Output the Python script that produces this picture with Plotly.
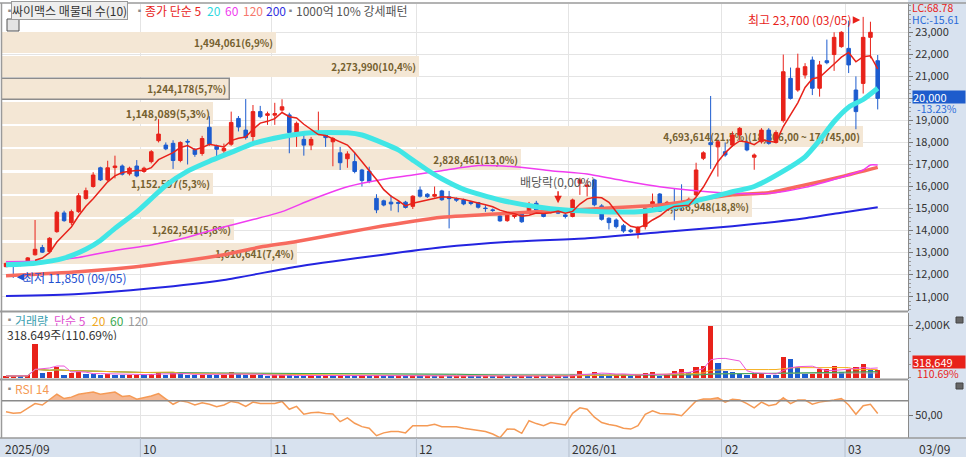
import pandas as pd
import plotly.graph_objects as go

# =============================================================================
# 데이터 (싸이맥스 일봉, 2025/09/04 ~ 2026/03/09, 121 거래일)
# =============================================================================
opens = [12360, 12480, 12440, 12550, 12900, 13230, 13050, 13950, 14800, 14360,
         14860, 15460, 16000, 16850, 16300, 16860, 16930, 16580, 16930, 16680,
         17130, 18080, 17880, 17960, 17180, 18050, 17680, 17500, 18690, 17830,
         17620, 17920, 19090, 18560, 18270, 19400, 19230, 19240, 19470, 19250,
         18440, 18140, 17880, 18400, 18450, 18030, 17530, 17260, 17130, 16750,
         16700, 15460, 15350, 15290, 15270, 15290, 15100, 15840, 15650, 15560,
         15800, 15530, 15450, 15390, 15300, 15270, 15020, 14940, 14660, 14450,
         14640, 14770, 14790, 15240, 14940, 14830, 14900, 14710, 14640, 16150,
         16000, 16300, 15120, 14560, 14480, 14220, 14020, 13900, 14180, 15080,
         15660, 15200, 15260, 15220, 15160, 15620, 17280, 17990, 17800, 17580,
         17880, 18340, 17990, 17330, 18030, 18560, 18000, 18990, 20910, 20380,
         21060, 21740, 20460, 21710, 21990, 22350, 22270, 20380, 20680, 22770, 21710]
highs = [12540, 12520, 12470, 12800, 14480, 13350, 13700, 14900, 14900, 14950,
         15700, 15950, 16650, 16900, 17170, 17400, 17000, 16900, 17200, 16900,
         17650, 19060, 18000, 18100, 18050, 18150, 17750, 18300, 19190, 17900,
         17950, 19400, 19200, 19970, 19700, 19660, 19400, 19800, 19960, 19350,
         18950, 18450, 18250, 19400, 18500, 18250, 17800, 17600, 17550, 16800,
         16900, 15650, 15400, 15600, 15350, 15350, 15600, 16000, 15700, 16000,
         15850, 15800, 15500, 15450, 15350, 15300, 15150, 15000, 14700, 14800,
         14800, 14850, 15300, 15350, 15000, 14950, 14950, 14800, 15450, 16400,
         16300, 16350, 15200, 14600, 14550, 14300, 14080, 14200, 15050, 15680,
         15700, 15350, 15920, 16100, 15500, 17080, 17600, 20110, 18100, 18000,
         18500, 18700, 18100, 17500, 18650, 18650, 18550, 21990, 21400, 22030,
         21600, 21900, 21700, 22670, 23000, 23050, 23530, 21000, 23700, 23480, 21970]
lows = [12340, 11850, 12380, 12480, 12870, 12980, 13000, 13900, 14400, 14250,
        14800, 15400, 15950, 16250, 16250, 16370, 16500, 16500, 16420, 16620,
        17050, 18000, 17650, 16800, 17100, 17000, 17350, 17400, 17850, 17200,
        17450, 17850, 18500, 18130, 17900, 19100, 18800, 18800, 19400, 17510,
        17800, 17400, 17650, 18350, 17800, 16920, 16750, 16850, 16600, 16000,
        16150, 14790, 15100, 14900, 14830, 15000, 14980, 15500, 15480, 15500,
        15350, 14100, 15300, 15150, 15150, 15000, 14850, 14850, 14400, 14400,
        14550, 14350, 14750, 14900, 14600, 14780, 14750, 14550, 14600, 15620,
        15550, 15100, 14450, 14050, 14100, 13900, 13900, 13640, 14050, 15000,
        14850, 15100, 14470, 14900, 15100, 15550, 17200, 16800, 16450, 17350,
        17800, 18100, 17600, 16760, 17950, 17900, 17950, 18900, 19950, 20300,
        20900, 20150, 20080, 21550, 21250, 22300, 21150, 18600, 20220, 21820, 19500]
closes = [12510, 12430, 12420, 12760, 13150, 13020, 13650, 14830, 14450, 14860,
          15580, 15810, 16520, 16300, 16850, 16930, 16560, 16830, 16480, 16830,
          17580, 18380, 17710, 17180, 18000, 18020, 17460, 18180, 17920, 17690,
          17730, 18910, 18700, 18220, 19400, 19170, 19300, 19310, 19620, 18450,
          18870, 17880, 18140, 18450, 18220, 18180, 17080, 17480, 16680, 16270,
          16230, 14940, 15160, 15210, 15240, 15050, 15560, 15560, 15540, 15640,
          15400, 15450, 15380, 15210, 15230, 15060, 15000, 14910, 14440, 14740,
          14760, 14400, 15160, 14940, 14640, 14900, 14790, 14640, 15390, 16300,
          16070, 15170, 14510, 14360, 14180, 13980, 13950, 14150, 15010, 15310,
          14880, 15280, 15010, 15180, 15420, 16750, 17530, 17900, 18030, 17430,
          18340, 18640, 17660, 17430, 18560, 17960, 18450, 21210, 20000, 21370,
          21440, 20460, 21520, 21620, 22770, 23000, 21520, 19400, 22770, 23000, 20000]
volumes = [75000, 80000, 60000, 110000, 1300000, 175000, 240000, 430000, 110000, 175000,
           240000, 150000, 140000, 120000, 150000, 130000, 110000, 120000, 130000, 110000,
           150000, 240000, 130000, 170000, 160000, 120000, 110000, 130000, 120000, 110000,
           120000, 240000, 150000, 110000, 120000, 100000, 90000, 100000, 110000, 100000,
           90000, 80000, 95000, 85000, 90000, 80000, 100000, 85000, 80000, 95000,
           90000, 110000, 85000, 70000, 80000, 75000, 90000, 70000, 75000, 65000,
           80000, 70000, 75000, 85000, 70000, 65000, 70000, 60000, 80000, 70000,
           65000, 75000, 70000, 80000, 65000, 70000, 75000, 65000, 150000, 275000,
           110000, 240000, 150000, 90000, 140000, 145000, 90000, 95000, 200000, 210000,
           90000, 110000, 265000, 340000, 240000, 430000, 450000, 1975000, 580000, 265000,
           240000, 150000, 130000, 200000, 205000, 110000, 105000, 780000, 715000, 430000,
           140000, 160000, 330000, 340000, 450000, 240000, 330000, 430000, 530000, 288000, 318649]
rsi14 = [54.6, 52.3, 53, 60, 66, 64, 71, 79, 73, 75,
         79, 80, 82, 79, 80, 82, 76, 77, 72, 74,
         76.5, 80, 72, 65, 70, 68, 64, 67, 65, 61.6,
         64, 69, 67, 62, 68, 66, 66, 66, 69, 58,
         62, 51, 53, 54, 52, 51.5, 40.7, 46, 38.4, 33.7,
         31.4, 21, 25, 27, 27, 25, 35, 35, 35, 37,
         33.7, 33.7, 33.7, 31.4, 30, 28.7, 27, 23.4, 18.3, 30.3,
         30, 24.4, 42, 38, 35, 39.4, 38, 36, 52.3, 60,
         58, 47, 39.4, 36.6, 35, 31.4, 30.3, 35, 51, 56,
         52, 52, 51, 49, 59, 69.6, 72.4, 72.4, 74, 68,
         72, 71, 66, 60, 68, 63, 65, 74, 66, 71,
         71, 65, 68, 69, 71, 73, 64, 51, 63, 65, 52]

# 이동평균선 (차트에서 읽은 값, 캔들 번호 기준)
ma20_idx = [0, 4, 8, 11, 13, 15, 18, 20, 22, 25, 28, 31, 34, 38, 42, 47, 49, 52, 54, 56,
            58, 60, 63, 68, 73, 77, 82, 87, 90, 93, 95, 100, 103, 107, 110, 112, 114, 116, 118, 120]
ma20_val = [12450, 12520, 12750, 13150, 13550, 14100, 14850, 15450, 16050, 16700, 17150, 17550,
            17950, 18260, 18440, 18440, 18340, 17960, 17660, 17200, 16750, 16350, 15870, 15390,
            15080, 14930, 14860, 14850, 14980, 15150, 15350, 15760, 16000, 16700, 17350, 18100,
            18950, 19600, 19950, 20460]
ma60_idx = [0, 5, 10, 15, 20, 25, 29, 34, 38, 42, 47, 52, 56, 60, 65, 70, 75, 80, 85, 90,
            95, 100, 105, 110, 115, 118, 119, 120]
ma60_val = [12590, 12620, 12780, 13100, 13350, 13700, 14080, 14500, 14860, 15400, 15990, 16330,
            16520, 16720, 16950, 16900, 16720, 16570, 16260, 15990, 15810, 15690, 15690, 15960,
            16420, 16750, 16980, 16980]
ma120_idx = [0, 10, 20, 30, 35, 40, 50, 60, 70, 80, 90, 95, 100, 105, 110, 115, 120]
ma120_val = [11950, 12130, 12440, 12900, 13250, 13500, 14100, 14600, 14800, 14970, 15160, 15390,
             15620, 15720, 16070, 16450, 16870]
ma200_idx = [0, 10, 20, 30, 40, 50, 60, 70, 80, 90, 100, 110, 115, 120]
ma200_val = [11030, 11120, 11380, 11760, 12360, 12820, 13240, 13500, 13650, 13920, 14200, 14560,
             14810, 15060]

# 매물대 (10개 구간)
band_low = [21989, 20928, 19867, 18806, 17745, 16684, 15623, 14562, 13501, 12440]
band_high = [23050, 21989, 20928, 19867, 18806, 17745, 16684, 15623, 14562, 13501]
band_volume = [1494061, 2273990, 1244178, 1148089, 4693614, 2828461, 1152597, 4086948, 1262541, 1610641]
band_labels = ["1,494,061(6,9%)", "2,273,990(10,4%)", "1,244,178(5,7%)", "1,148,089(5,3%)",
               "4,693,614(21,5%)(18,806,00 ~ 17,745,00)", "2,828,461(13,0%)", "1,152,597(5,3%)",
               "4,086,948(18,8%)", "1,262,541(5,8%)", "1,610,641(7,4%)"]
current_band = 2

month_start = [0, 19, 37, 57, 78, 99, 116]
month_labels = ["2025/09", "10", "11", "12", "2026/01", "02", "03"]
price_ticks = list(range(11000, 24000, 1000))
last_price = 20000

# =============================================================================
# 스타일
# =============================================================================
FONT = "Noto Sans CJK KR"
RED = "#e8221a"
BLUE = "#1c5ccf"
GRID = "#e4e4e4"
PANEL = "#d8e2ef"
W, H = 966, 457
ML, MR, MT, MB = 2, 58, 4, 19
PW, PH = W - ML - MR, H - MT - MB


def px(x):
    return (x - ML) / PW


def py(y):
    return (H - MB - y) / PH


idx = list(range(len(closes)))
xr = [-0.55, 124.17]
grid_pos = [m - 0.5 for m in month_start[1:]]

close_s = pd.Series(closes)
ma5 = close_s.rolling(5).mean()
vol_s = pd.Series(volumes)
vol_colors = [RED if i == 0 or volumes[i] >= volumes[i - 1] else BLUE for i in idx]

fig = go.Figure()

# 매물대 막대
fig.add_trace(go.Bar(
    x=band_volume, y=[(a + b) / 2 for a, b in zip(band_low, band_high)],
    width=[(b - a) * 0.9 for a, b in zip(band_low, band_high)],
    base=0, orientation="h", xaxis="x", yaxis="y",
    marker=dict(color="#f4e7d5",
                line=dict(color="#8c8c8c",
                          width=[1.5 if i == current_band else 0 for i in range(len(band_low))])),
    text=band_labels, textposition="inside", insidetextanchor="end",
    textfont=dict(family=FONT, size=12.5, color="#75602f", weight="bold"),
    hoverinfo="skip", showlegend=False,
))

# 이동평균선
for xs, ys, col, wd in [(ma200_idx, ma200_val, "#2424e0", 2),
                        (ma120_idx, ma120_val, "#f76a5e", 3.5),
                        (ma60_idx, ma60_val, "#f03cf0", 1.5),
                        (ma20_idx, ma20_val, "#40e6e6", 5)]:
    fig.add_trace(go.Scatter(x=xs, y=ys, mode="lines", xaxis="x2", yaxis="y",
                             line=dict(color=col, width=wd, shape="spline", smoothing=0.6),
                             hoverinfo="skip", showlegend=False))

fig.add_trace(go.Candlestick(
    x=idx, open=opens, high=highs, low=lows, close=closes, xaxis="x2", yaxis="y",
    increasing=dict(line=dict(color=RED, width=1), fillcolor=RED),
    decreasing=dict(line=dict(color=BLUE, width=1), fillcolor=BLUE),
    whiskerwidth=0, showlegend=False, hoverinfo="skip",
))

fig.add_trace(go.Scatter(x=idx, y=ma5, mode="lines", xaxis="x2", yaxis="y",
                         line=dict(color=RED, width=1.5), hoverinfo="skip", showlegend=False))

# 거래량
fig.add_trace(go.Bar(x=idx, y=volumes, xaxis="x3", yaxis="y2", width=0.72,
                     marker=dict(color=vol_colors, line=dict(width=0)),
                     hoverinfo="skip", showlegend=False))
for n, col in [(120, "#aaaaaa"), (60, "#3aaa50"), (20, "#f5b020"), (5, "#ee55d8")]:
    fig.add_trace(go.Scatter(x=idx, y=vol_s.rolling(n, min_periods=1).mean(), mode="lines",
                             xaxis="x3", yaxis="y2", line=dict(color=col, width=1),
                             hoverinfo="skip", showlegend=False))

# RSI
fig.add_trace(go.Scatter(x=idx, y=[70] * len(idx), mode="lines", xaxis="x3", yaxis="y3",
                         line=dict(width=0), hoverinfo="skip", showlegend=False))
fig.add_trace(go.Scatter(x=idx, y=[max(v, 70) for v in rsi14], mode="lines", xaxis="x3", yaxis="y3",
                         fill="tonexty", fillcolor="rgba(242,160,112,0.75)", line=dict(width=0),
                         hoverinfo="skip", showlegend=False))
fig.add_trace(go.Scatter(x=idx, y=rsi14, mode="lines", xaxis="x3", yaxis="y3",
                         line=dict(color="#f59a55", width=1.5), hoverinfo="skip", showlegend=False))

axis_font = dict(family=FONT, size=11, color="#333")
yax_common = dict(side="right", showline=True, linecolor="#8a8a8a", linewidth=1,
                  gridcolor=GRID, zeroline=False, ticks="outside", ticklen=4,
                  tickcolor="#777", tickfont=axis_font, fixedrange=True)

fig.update_layout(
    width=W, height=H,
    margin=dict(l=ML, r=MR, t=MT, b=MB),
    paper_bgcolor="white", plot_bgcolor="white",
    hovermode=False, showlegend=False, bargap=0,
    xaxis=dict(domain=[0, 1], anchor="y", range=[0, 4693614 * PW / 861], visible=False,
               rangeslider=dict(visible=False), fixedrange=True),
    xaxis2=dict(overlaying="x", anchor="y", range=xr, tickvals=grid_pos, showticklabels=False,
                showgrid=True, gridcolor=GRID, zeroline=False, ticks="",
                rangeslider=dict(visible=False), fixedrange=True),
    xaxis3=dict(domain=[0, 1], anchor="y3", range=xr, tickvals=grid_pos, showticklabels=False,
                showgrid=True, gridcolor=GRID, zeroline=False, ticks="", fixedrange=True),
    yaxis=dict(domain=[(H - MB - 311) / PH, 1], anchor="x", range=[10349, 24285],
               tickvals=price_ticks,
               ticktext=["" if v == last_price else f"{v:,}" for v in price_ticks],
               minor=dict(ticks="outside", ticklen=2, dtick=200, tickcolor="#999", showgrid=False),
               **yax_common),
    yaxis2=dict(domain=[(H - MB - 379) / PH, (H - MB - 313) / PH], anchor="x3",
                range=[-38000, 2453000], tickvals=[2000000], ticktext=["2,000K"],
                minor=dict(ticks="outside", ticklen=2, dtick=500000, tickcolor="#999", showgrid=False),
                **yax_common),
    yaxis3=dict(domain=[0, (H - MB - 380) / PH], anchor="x3", range=[17.83, 98.95],
                tickvals=[50], ticktext=["50,00"], **yax_common),
)

shapes = [
    # 오른쪽 축 패널 / 아래 날짜 띠
    dict(type="rect", xref="paper", yref="paper", x0=1, x1=px(W), y0=py(H), y1=py(0),
         fillcolor=PANEL, line=dict(width=0), layer="below"),
    dict(type="rect", xref="paper", yref="paper", x0=px(0), x1=px(W), y0=py(H), y1=py(438),
         fillcolor=PANEL, line=dict(width=0), layer="below"),
    # 패널 구분선
    dict(type="line", xref="paper", yref="paper", x0=px(0), x1=1, y0=py(311.5), y1=py(311.5),
         line=dict(color="#9a9a9a", width=2)),
    dict(type="line", xref="paper", yref="paper", x0=px(0), x1=1, y0=py(379.5), y1=py(379.5),
         line=dict(color="#9a9a9a", width=2)),
    dict(type="line", xref="paper", yref="paper", x0=px(0), x1=px(W), y0=py(438), y1=py(438),
         line=dict(color="#9a9a9a", width=1.5)),
    dict(type="line", xref="paper", yref="paper", x0=px(0), x1=px(W), y0=py(3), y1=py(3),
         line=dict(color="#9a9a9a", width=1.5)),
    dict(type="line", xref="paper", yref="paper", x0=px(1.5), x1=px(1.5), y0=py(438), y1=py(3),
         line=dict(color="#9a9a9a", width=1.5)),
    # RSI 70 기준선
    dict(type="line", xref="paper", yref="y3", x0=0, x1=1, y0=70, y1=70,
         line=dict(color="#8a8a8a", width=1.5)),
    # 표 아이콘
    dict(type="rect", xref="paper", yref="paper", x0=px(7), x1=px(19), y0=py(31), y1=py(19),
         fillcolor="#e4e4e4", line=dict(color="#555", width=1)),
    # 오른쪽 작은 아이콘
    dict(type="rect", xref="paper", yref="paper", x0=px(956), x1=px(963), y0=py(323), y1=py(317),
         fillcolor="#666", line=dict(color="#444", width=1)),
    dict(type="rect", xref="paper", yref="paper", x0=px(956), x1=px(963), y0=py(389), y1=py(383),
         fillcolor="#666", line=dict(color="#444", width=1)),
]
for g in grid_pos:
    shapes.append(dict(type="line", xref="x3", yref="paper", x0=g, x1=g, y0=py(H), y1=py(438),
                       line=dict(color="#b4bfce", width=1)))
fig.update_layout(shapes=shapes)


def label(x, y, text, color, size=12, anchor="left", **kw):
    fig.add_annotation(xref="paper", yref="paper", x=px(x), y=py(y), text=text, showarrow=False,
                       xanchor=anchor, yanchor="middle",
                       font=dict(family=FONT, size=size, color=color), **kw)


# 상단 범례
label(3, 11, "▪", "#8a8a8a", 9)
label(11, 11, "싸이맥스 매물대 수(10)", "#333", 12, bgcolor="#eeeeee", bordercolor="#9a9a9a",
      borderwidth=1, borderpad=0)
label(133, 11, "▪", "#8a8a8a", 9)
label(143, 11, "종가 단순 5", RED)
label(205, 11, "20", "#2fd8e0")
label(223, 11, "60", "#f03cf0")
label(241, 11, "120", "#f7786c")
label(264, 11, "200", "#3030e0")
label(284, 11, "▪", "#8a8a8a", 9)
label(294, 11, "1000억 10% 강세패턴", "#555")

# 거래량 / RSI 범례
label(3, 319.5, "▪", "#8a8a8a", 9, height=11)
label(13, 319.5, "거래량", "#3aa0b0", height=12)
label(52, 319.5, "단순 5", "#e050d0", height=12)
label(90, 319.5, "20", "#f0a820", height=12)
label(108, 319.5, "60", "#3aaa50", height=12)
label(126, 319.5, "120", "#999", height=12)
label(5, 333.5, "318,649주(110,69%)", "#333", height=12)
label(3, 388, "▪", "#8a8a8a", 9)
label(13, 388, "RSI 14", "#f59a55")

# 오른쪽 축 표시
label(910, 7, "LC:68,78", RED, 10.5, height=10)
label(910, 18.5, "HC:-15,61", "#2a6ad8", 10.5, height=10)
label(912, 97.5, "20,000", "white", 11, bgcolor="#1e5ccc", width=52, height=12, align="left",
      borderpad=0)
label(915, 108.7, "-13,23%", "#2a6ad8", 10.5, height=9)
label(912, 362, "318,649", "white", 11, bgcolor=RED, width=52, height=12, align="left",
      borderpad=0)
label(915, 373.5, "110,69%", RED, 10.5, height=9)
label(917, 448, "03/09", "#333")

# 날짜 라벨
for m, t in zip(month_start, month_labels):
    fig.add_annotation(xref="x3", yref="paper", x=m - 0.5, y=py(448), text=t, showarrow=False,
                       xanchor="left", yanchor="middle", xshift=1,
                       font=dict(family=FONT, size=12, color="#333"))

# 최고 / 최저 / 배당락
fig.add_annotation(xref="x2", yref="y", x=117.6, y=23560, ax=-60, ay=0, text="최고 23,700 (03/05)",
                   showarrow=True, arrowhead=2, arrowsize=1, arrowwidth=1.5, arrowcolor=RED,
                   font=dict(family=FONT, size=12, color=RED))
fig.add_annotation(xref="x2", yref="y", x=1.5, y=11880, ax=58, ay=0, text="최저 11,850 (09/05)",
                   showarrow=True, arrowhead=2, arrowsize=1, arrowwidth=1.5, arrowcolor="#1e4fd0",
                   font=dict(family=FONT, size=12, color="#1e4fd0"))
fig.add_annotation(xref="x2", yref="y", x=76, y=15240, ax=0, ay=-22, text="배당락(0,00%)",
                   showarrow=True, arrowhead=2, arrowsize=1, arrowwidth=1.5, arrowcolor=RED,
                   font=dict(family=FONT, size=12, color="#555"))

fig.write_html("out.html", config={"displayModeBar": False},
               post_script="document.body.style.margin='0';document.body.style.overflow='hidden';")
